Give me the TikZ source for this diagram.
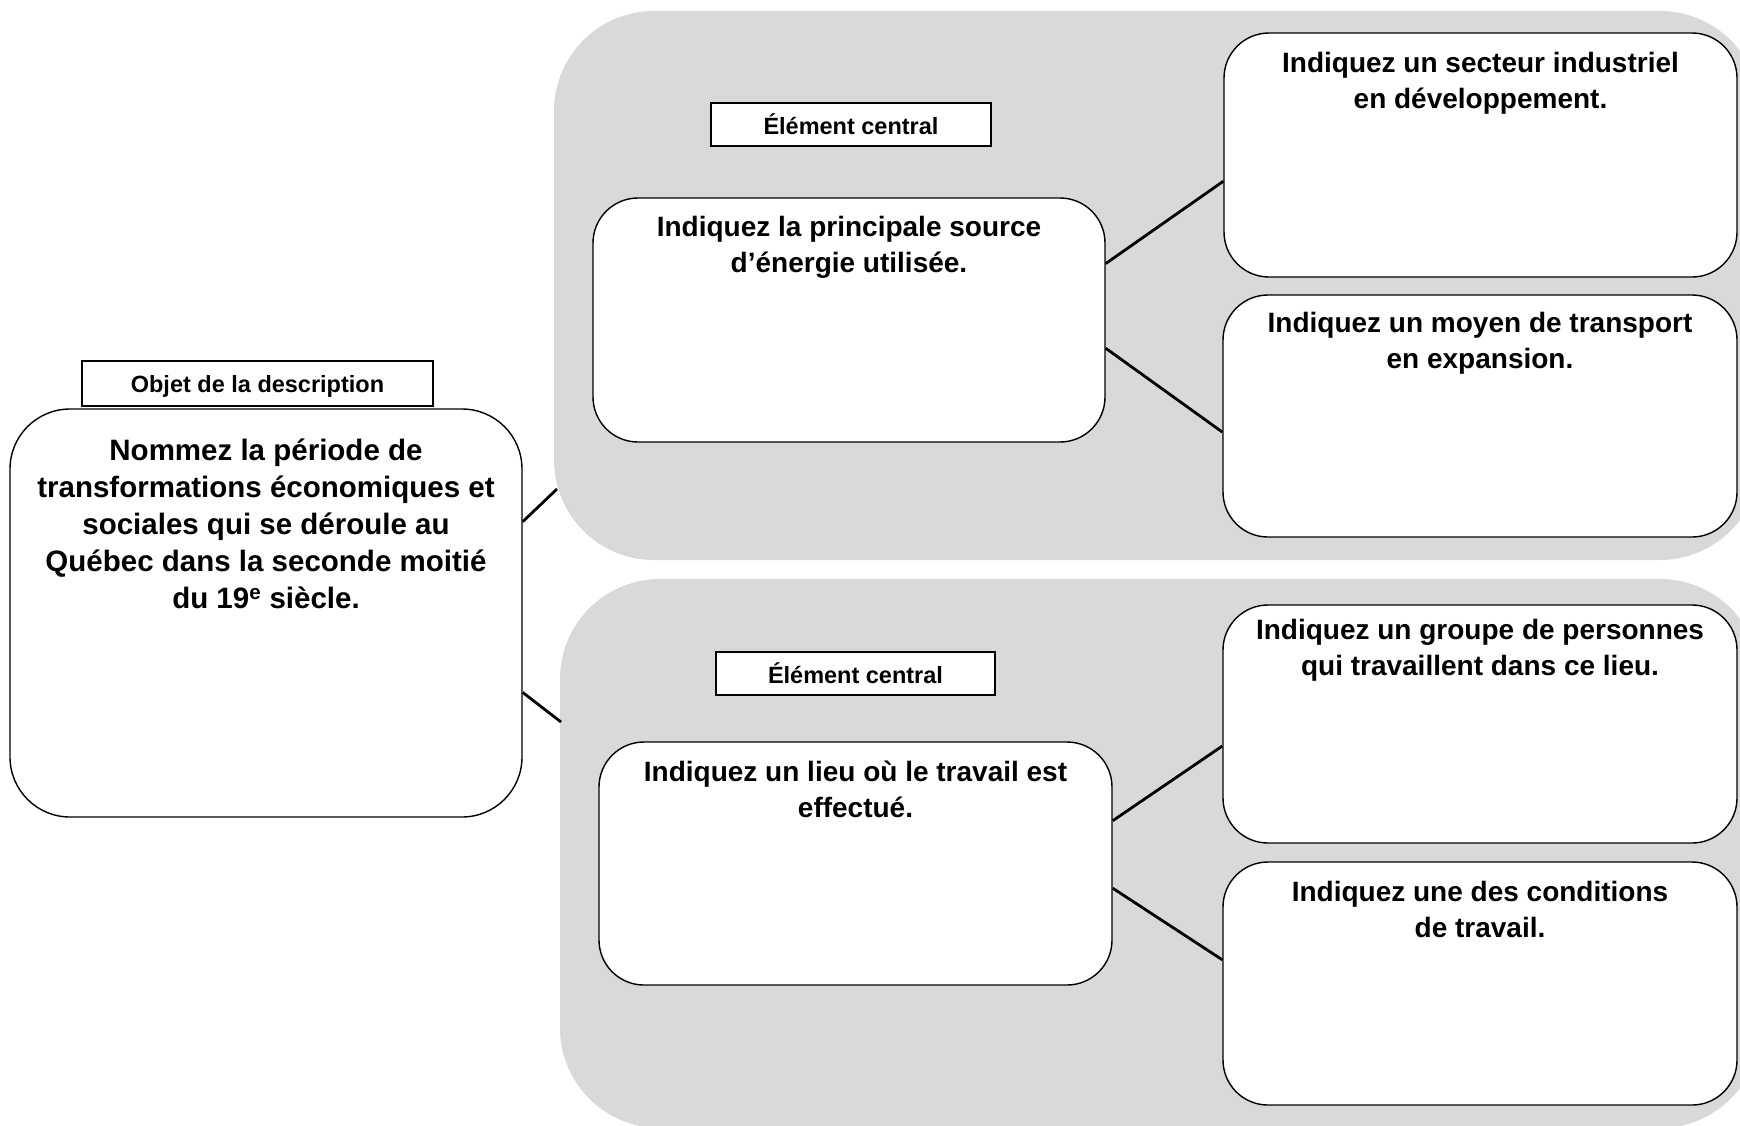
\documentclass[tikz,border=0pt]{standalone}
\usepackage{fontspec}
\setmainfont{Liberation Sans}
\usetikzlibrary{calc}
\definecolor{bggray}{RGB}{217,217,217}
\tikzset{
  bgzone/.style={fill=bggray, draw=none, rounded corners=100pt, inner sep=0pt},
  whitebox/.style={draw=black, line width=1.4pt, fill=white, rounded corners=45pt, inner sep=0pt},
  bigbox/.style={draw=black, line width=1.4pt, fill=white, rounded corners=60pt, inner sep=0pt},
  tagbox/.style={draw=black, line width=1.4pt, fill=white, inner sep=0pt,
    font=\fontsize{23.5}{28}\selectfont\bfseries},
  boxtext/.style={align=center, inner sep=0pt, font=\fontsize{28}{36}\selectfont\bfseries},
  maintext/.style={align=center, inner sep=0pt, font=\fontsize{29.5}{37}\selectfont\bfseries},
  conn/.style={draw=black, line width=2.8pt}
}
\begin{document}
\begin{tikzpicture}[x=1pt, y=-1pt]
\useasboundingbox (0,0) rectangle (1740,1125);
\fill[white] (0,0) rectangle (1740,1125);
\begin{scope}
\clip (0,0) rectangle (1740,1125);
\node[bgzone, minimum width=1206pt, minimum height=549pt] (zone1) at (1157,285.5) {};
\node[bgzone, minimum width=1200pt, minimum height=549pt] (zone2) at (1160,853.5) {};
\end{scope}

% left main box
\node[tagbox, minimum width=351pt, minimum height=45pt] (objet) at (257.5,383.5) {};
\node[tagbox, draw=none, fill=none] (objett) at (257.5,386) {Objet de la description};
\node[bigbox, minimum width=512pt, minimum height=408pt] (main) at (266,613) {};
\node[maintext] (maint) at (266,524) {Nommez la période de\\transformations économiques et\\sociales qui se déroule au\\Québec dans la seconde moitié\\du 19\textsuperscript{e} siècle.};

% top zone
\node[tagbox, minimum width=280pt, minimum height=43pt] (el1) at (851,124.5) {Élément central};
\node[whitebox, minimum width=512pt, minimum height=244pt] (source) at (849,320) {};
\node[boxtext] (sourcet) at (849,247) {Indiquez la principale source\\d’énergie utilisée.};
\node[whitebox, minimum width=513pt, minimum height=244pt] (secteur) at (1480.5,155) {};
\node[boxtext] (secteurt) at (1480.5,83) {Indiquez un secteur industriel\\en développement.};
\node[whitebox, minimum width=514pt, minimum height=242pt] (transport) at (1480,416) {};
\node[boxtext] (transportt) at (1480,343) {Indiquez un moyen de transport\\en expansion.};

% bottom zone
\node[tagbox, minimum width=279pt, minimum height=43pt] (el2) at (855.5,673.5) {Élément central};
\node[whitebox, minimum width=513pt, minimum height=243pt] (lieu) at (855.5,863.5) {};
\node[boxtext] (lieut) at (855.5,789) {Indiquez un lieu où le travail est\\effectué.};
\node[whitebox, minimum width=514pt, minimum height=238pt] (groupe) at (1480,724) {};
\node[boxtext] (groupet) at (1480,650) {Indiquez un groupe de personnes\\qui travaillent dans ce lieu.};
\node[whitebox, minimum width=514pt, minimum height=243pt] (cond) at (1480,983.5) {};
\node[boxtext] (condt) at (1480,909.5) {Indiquez une des conditions\\de travail.};

% connector ends on the grey zones
\coordinate (z1in) at (557,489);
\coordinate (z2in) at (561,722);

% connectors
\draw[conn] ($(main.north east)!0.277!(main.south east)$) -- (z1in);
\draw[conn] ($(main.north east)!0.694!(main.south east)$) -- (z2in);
\draw[conn] ($(source.north east)!0.27!(source.south east)$) -- ($(secteur.north west)!0.607!(secteur.south west)$);
\draw[conn] ($(source.north east)!0.615!(source.south east)$) -- ($(transport.north west)!0.566!(transport.south west)$);
\draw[conn] ($(lieu.north east)!0.325!(lieu.south east)$) -- ($(groupe.north west)!0.592!(groupe.south west)$);
\draw[conn] ($(lieu.north east)!0.601!(lieu.south east)$) -- ($(cond.north west)!0.403!(cond.south west)$);
\end{tikzpicture}
\end{document}
